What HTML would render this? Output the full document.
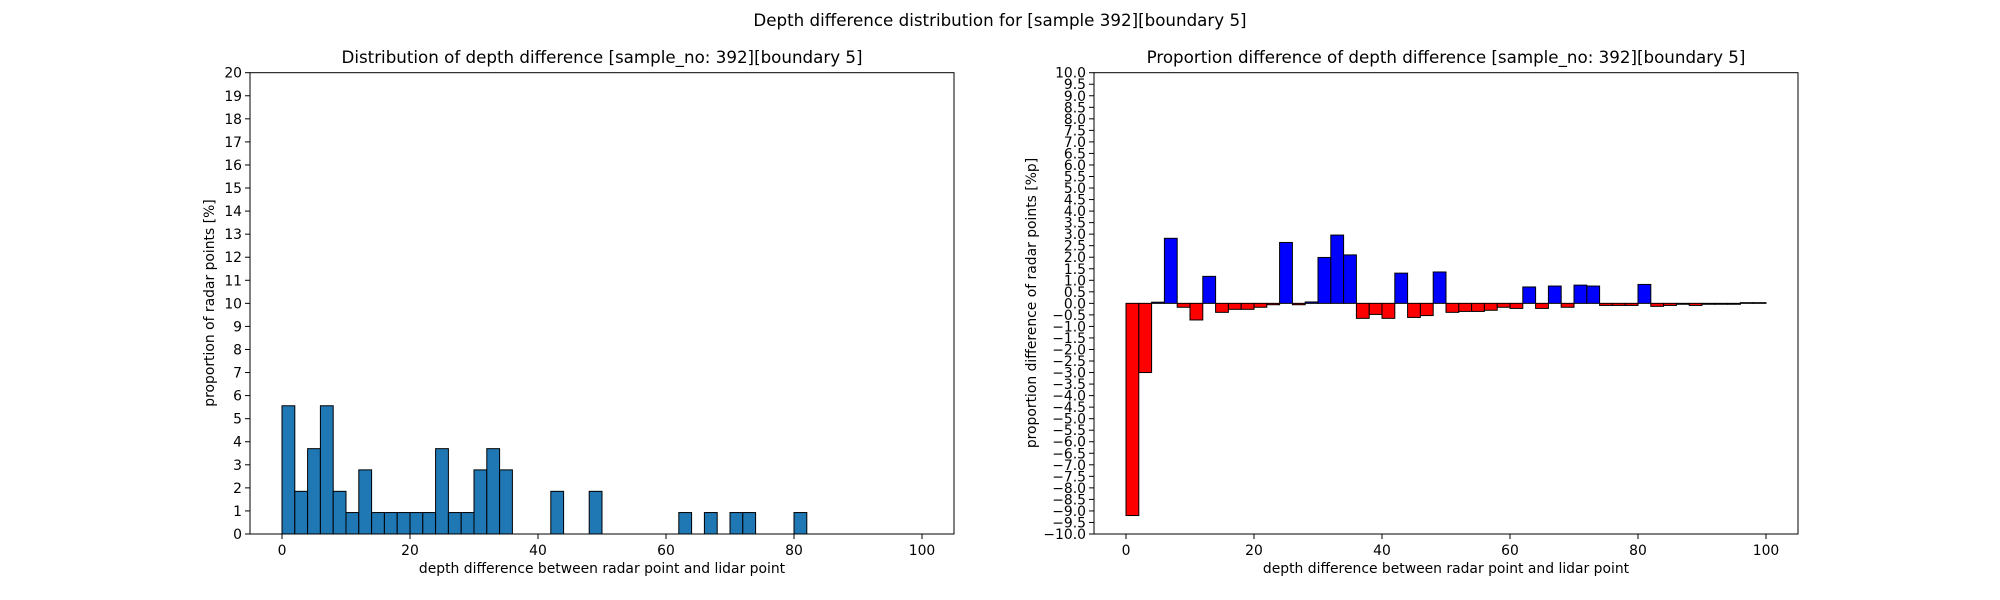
<!DOCTYPE html>
<html><head><meta charset="utf-8"><style>
html,body{margin:0;padding:0;background:#fff;}
svg{display:block;font-family:"DejaVu Sans","Liberation Sans",sans-serif;}
</style></head><body>
<svg id="chart" width="2000" height="600" xmlns="http://www.w3.org/2000/svg">
<text x="1000" y="26" font-size="16.7" text-anchor="middle">Depth difference distribution for [sample 392][boundary 5]</text>
<text x="602" y="63" font-size="16.7" text-anchor="middle">Distribution of depth difference [sample_no: 392][boundary 5]</text>
<text x="1446" y="63" font-size="16.7" text-anchor="middle">Proportion difference of depth difference [sample_no: 392][boundary 5]</text>
<text x="602" y="573" font-size="13.9" text-anchor="middle">depth difference between radar point and lidar point</text>
<text x="1446" y="573" font-size="13.9" text-anchor="middle">depth difference between radar point and lidar point</text>
<text transform="translate(214,303) rotate(-90)" font-size="13.9" text-anchor="middle">proportion of radar points [%]</text>
<text transform="translate(1036,303) rotate(-90)" font-size="13.9" text-anchor="middle">proportion difference of radar points [%p]</text>
<g id="left"></g><g id="right"></g>
</svg>
<script>
const binStarts = Array.from({length:50},(_,i)=>i*2);
const leftValues = [5.56,1.85,3.70,5.56,1.85,0.93,2.78,0.93,0.93,0.93,0.93,0.93,3.70,0.93,0.93,2.78,3.70,2.78,0,0,0,1.85,0,0,1.85,0,0,0,0,0,0,0.93,0,0.93,0,0.93,0.93,0,0,0,0.93,0,0,0,0,0,0,0,0,0];
const rightValues = [-9.2,-3.0,0.05,2.82,-0.17,-0.72,1.17,-0.39,-0.26,-0.26,-0.17,-0.06,2.64,-0.06,0.06,1.99,2.96,2.10,-0.65,-0.48,-0.65,1.31,-0.61,-0.53,1.36,-0.39,-0.35,-0.35,-0.30,-0.17,-0.22,0.71,-0.22,0.75,-0.17,0.79,0.75,-0.09,-0.09,-0.09,0.82,-0.13,-0.09,-0.04,-0.09,-0.04,-0.04,-0.04,0.03,0.03];
const xTicks = [0,20,40,60,80,100];
const leftYTicks = Array.from({length:21},(_,i)=>i);
const rightYTicks = Array.from({length:41},(_,i)=>-10+i*0.5);
const NS="http://www.w3.org/2000/svg";
function mk(tag,attrs,parent){const e=document.createElementNS(NS,tag);for(const k in attrs)e.setAttribute(k,attrs[k]);parent.appendChild(e);return e;}
function drawAxes(g,x0,x1,y0,y1,ymin,ymax,yTicks,fmt,values,colorFn,prefix){
  const sx=v=>x0+(v+5)/110*(x1-x0);
  const sy=v=>y1-(v-ymin)/(ymax-ymin)*(y1-y0);
  values.forEach((v,i)=>{
    const xa=sx(binStarts[i]),xb=sx(binStarts[i]+2);
    const ya=sy(Math.max(v,0)),yb=sy(Math.min(v,0));
    if(v===0)return;
    const r=mk('rect',{x:xa,y:ya,width:xb-xa,height:Math.max(yb-ya,0.5),fill:colorFn(v),stroke:'#000','stroke-width':1},g);
    
    
  });
  const frame=mk('rect',{x:x0,y:y0,width:x1-x0,height:y1-y0,fill:'none',stroke:'#000','stroke-width':1},g);
  
  
  xTicks.forEach(t=>{
    const x=sx(t);
    mk('line',{x1:x,x2:x,y1:y1,y2:y1+5,stroke:'#000'},g);
    const tx=mk('text',{x:x,y:y1+21,'font-size':13.9,'text-anchor':'middle'},g);
    tx.textContent=t;
    
    
  });
  yTicks.forEach(t=>{
    const y=sy(t);
    mk('line',{x1:x0-5,x2:x0,y1:y,y2:y,stroke:'#000'},g);
    const tx=mk('text',{x:x0-8,y:y+5,'font-size':13.9,'text-anchor':'end'},g);
    tx.textContent=fmt(t);
    
    
  });
}
drawAxes(document.getElementById('left'),250,954,72.7,534,0,20,leftYTicks,t=>String(t),leftValues,()=> '#1f77b4','left');
drawAxes(document.getElementById('right'),1094,1798,72.7,534,-10,10,rightYTicks,t=>(t<0?'\u2212':'')+Math.abs(t).toFixed(1),rightValues,v=>v>=0?'#0000ff':'#ff0000','right');
</script>
</body></html>
